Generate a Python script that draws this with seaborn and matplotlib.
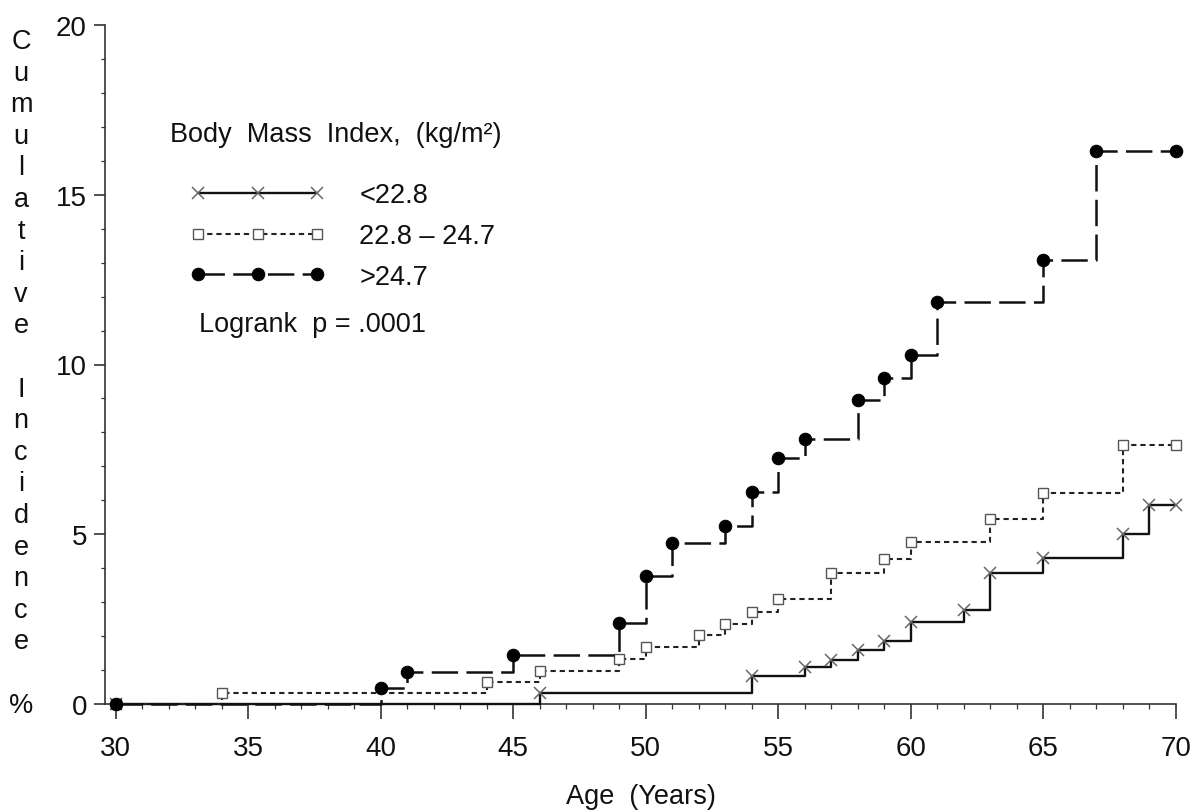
import matplotlib
matplotlib.use("Agg")
import matplotlib.pyplot as plt
import seaborn as sns
import numpy as np
import pandas as pd
from matplotlib.ticker import MultipleLocator

# ---- data ----
labels = ["<22.8", "22.8 \u2013 24.7", ">24.7"]

ages_low = [30, 46, 54, 56, 57, 58, 59, 60, 62, 63, 65, 68, 69, 70]
inc_low = [0, 0.32, 0.82, 1.09, 1.31, 1.58, 1.85, 2.42, 2.78, 3.87, 4.30, 5.01, 5.85, 5.85]

ages_mid = [30, 34, 44, 46, 49, 50, 52, 53, 54, 55, 57, 59, 60, 63, 65, 68, 70]
inc_mid = [0, 0.32, 0.64, 0.98, 1.34, 1.68, 2.03, 2.36, 2.70, 3.09, 3.85, 4.28, 4.78, 5.45, 6.21, 7.62, 7.62]

ages_high = [30, 40, 41, 45, 49, 50, 51, 53, 54, 55, 56, 58, 59, 60, 61, 65, 67, 70]
inc_high = [0, 0.47, 0.95, 1.43, 2.38, 3.78, 4.75, 5.25, 6.23, 7.26, 7.81, 8.95, 9.60, 10.29, 11.84, 13.07, 16.30, 16.30]

x_ticks = [30, 35, 40, 45, 50, 55, 60, 65, 70]
y_ticks = [0, 5, 10, 15, 20]

# ---- style ----
sns.set_theme(style="white")
plt.rcParams["font.family"] = ["Liberation Sans", "DejaVu Sans"]
plt.rcParams["lines.scale_dashes"] = False
plt.rcParams["text.color"] = "#111111"

W, H = 1203, 812
fig = plt.figure(figsize=(W / 100, H / 100), dpi=100)
ax = fig.add_axes([105 / W, 107 / H, (1176 - 105) / W, (705 - 26) / H])

# <22.8 : solid line, grey crosses
sns.lineplot(x=ages_low, y=inc_low, ax=ax, estimator=None, sort=False,
             drawstyle="steps-post", color="#111111", linewidth=1.7,
             marker="x", markersize=8, markeredgecolor="#666666",
             markeredgewidth=1.1, clip_on=False, label=labels[0], zorder=3)
line_low = ax.get_lines()[-1]

# 22.8-24.7 : short dashes, open squares
sns.lineplot(x=ages_mid, y=inc_mid, ax=ax, estimator=None, sort=False,
             drawstyle="steps-post", color="#222222", linewidth=1.5,
             marker="s", markersize=7.5, markerfacecolor="white",
             markeredgecolor="#555555", markeredgewidth=1.0,
             clip_on=False, label=labels[1], zorder=4)
line_mid = ax.get_lines()[-1]
line_mid.set_dashes([3.8, 2.8])

# >24.7 : long dashes, filled dots
sns.lineplot(x=ages_high, y=inc_high, ax=ax, estimator=None, sort=False,
             drawstyle="steps-post", color="#111111", linewidth=1.8,
             marker="o", markersize=9, markerfacecolor="black",
             markeredgecolor="black", clip_on=False, label=labels[2], zorder=5)
line_high = ax.get_lines()[-1]
line_high.set_dashes([19, 6])

# ---- axes ----
ax.set_xlim(29.6, 70)
ax.set_ylim(0, 20)
ax.set_xticks(x_ticks)
ax.set_yticks(y_ticks)
ax.xaxis.set_minor_locator(MultipleLocator(1))
ax.yaxis.set_minor_locator(MultipleLocator(1))
ax.tick_params(axis="both", which="both", bottom=True, left=True,
               direction="out", colors="#333333")
ax.tick_params(axis="x", which="major", length=11, width=1.2, labelsize=20,
               pad=11, labelcolor="#111111")
ax.tick_params(axis="x", which="minor", length=3.5, width=0.9)
ax.tick_params(axis="y", which="major", length=8, width=1.2, labelsize=20,
               pad=5, labelcolor="#111111")
ax.tick_params(axis="y", which="minor", length=3, width=0.9)
sns.despine(ax=ax)
for s in ("left", "bottom"):
    ax.spines[s].set_color("#333333")
    ax.spines[s].set_linewidth(1.2)
ax.set_ylabel("")
ax.set_xlabel("Age  (Years)", fontsize=19.5, labelpad=16, color="#111111")

# stacked vertical y-axis title
letters = list("Cumulative") + [""] + list("Incidence") + [""] + ["%"]
for k, ch in enumerate(letters):
    if ch:
        fig.text(21 / W, 1 - (42 + 31.6 * k) / H, ch, ha="center",
                 va="center", fontsize=19.5)

# ---- legend ----
leg = ax.legend(handles=[line_low, line_mid, line_high], labels=labels,
                loc="center left", bbox_to_anchor=(190 / W, 1 - 237 / H),
                bbox_transform=fig.transFigure, frameon=False, numpoints=3,
                handlelength=5.0, handletextpad=1.25, labelspacing=0.54,
                borderpad=0, borderaxespad=0, fontsize=19.5)
fig.text(170 / W, 1 - 135 / H, "Body  Mass  Index,  (kg/m\u00b2)",
         ha="left", va="center", fontsize=19.5)
fig.text(199 / W, 1 - 325 / H, "Logrank  p = .0001", ha="left",
         va="center", fontsize=19.5)

fig.savefig("out.png", dpi=100)
